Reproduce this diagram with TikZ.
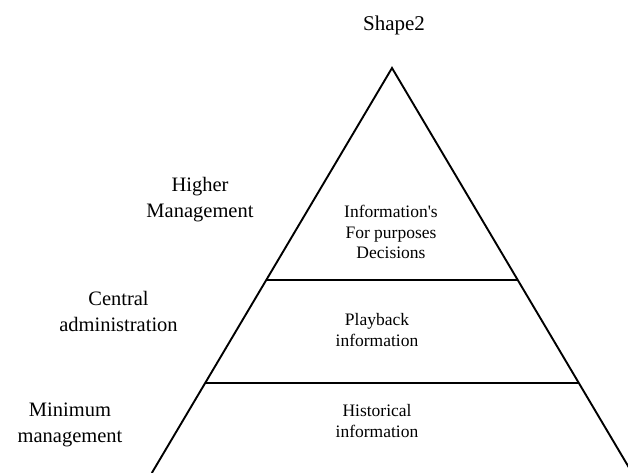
\documentclass[tikz,border=0pt]{standalone}
\usepackage{fontspec}
\setmainfont{Liberation Serif}
\usetikzlibrary{calc}
\begin{document}
\begin{tikzpicture}[x=1pt,y=-1pt,
  sidelabel/.style={align=center,inner sep=0pt,font=\fontsize{20.5}{26}\selectfont},
  innerlabel/.style={align=center,inner sep=0pt,font=\fontsize{17.5}{20.5}\selectfont},
  titlelabel/.style={inner sep=0pt,font=\fontsize{21}{25}\selectfont},
  outline/.style={line width=1.9pt,line join=miter},
  divider/.style={line width=1.4pt}]
\useasboundingbox (0,0) rectangle (628,472);
\clip (0,0) rectangle (628,472);
\coordinate (apex) at (392,68);
\coordinate (bl) at (151.8,473);
\coordinate (br) at (632.2,473);
\draw[outline] (bl) -- (apex) -- (br);
\coordinate (l1) at ($(apex)!0.5235!(bl)$);
\coordinate (r1) at ($(apex)!0.5235!(br)$);
\coordinate (l2) at ($(apex)!0.7778!(bl)$);
\coordinate (r2) at ($(apex)!0.7778!(br)$);
\draw[divider] (l1) -- (r1);
\draw[divider] (l2) -- (r2);
\node[titlelabel] (title) at (394,25) {Shape2};
\node[sidelabel] (high) at (200,199.5) {Higher\\Management};
\node[sidelabel] (central) at (118.5,311.5) {Central\\administration};
\node[sidelabel] (minimum) at (70,425) {Minimum\\management};
\node[innerlabel] (info1) at (391,232) {Information\textquotesingle s\\For purposes\\Decisions};
\node[innerlabel] (info2) at (377,330) {Playback\\information};
\node[innerlabel] (info3) at (377,421) {Historical\\information};
\end{tikzpicture}
\end{document}
